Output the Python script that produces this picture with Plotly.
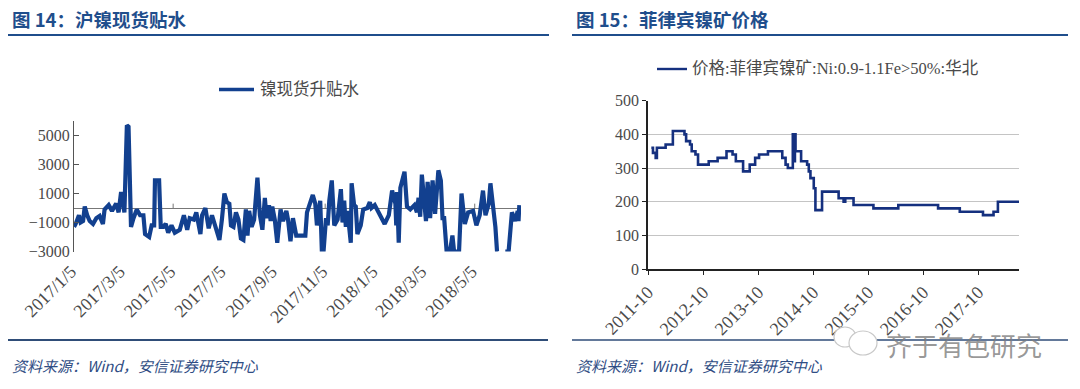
import pandas as pd
import plotly.graph_objects as go

W, H = 1080, 389

# Left chart: days since 2017/1/5 and basis values
basis_start = "2017-01-05"
basis_days = [0,2,6,8,11,13,16,19,23,27,31,35,37,42,46,51,54,57,61,64,66,69,72,76,80,84,86,91,94,97,98,103,105,108,111,114,118,122,128,133,137,140,145,148,153,155,159,163,167,171,176,179,182,185,188,190,193,196,199,202,205,208,210,212,215,218,222,225,228,231,233,236,238,240,243,246,250,253,257,259,262,265,269,274,
              280,282,286,289,292,294,298,300,302,305,307,309,312,315,319,323,325,327,329,331,335,336,339,341,343,347,350,355,358,360,364,368,372,376,381,385,389,390,391,393,395,400,403,407,412,415,417,419,421,424,426,428,431,434,437,441,444,446,448,451,455,458,460,466,469,473,477,483,487,491,495,498,502,504,508,510,512,513,514,522,526,530,534,537,538,539]
basis_values = [-1300,-1100,-500,-1000,-900,100,-500,-900,-1100,-700,-550,-1100,-100,200,-200,300,-300,1100,-300,5700,5600,-1300,-700,-100,-500,-500,-1800,-2000,-1200,-1200,1900,1900,-1300,-1300,-1100,-1700,-1200,-1700,-1500,-500,-1500,-700,-800,-300,-1800,-500,0,-1400,-500,-1200,-2200,-800,1000,400,300,-1200,-1300,-300,-800,-2100,-2200,-100,-1900,-200,-1300,-800,2100,-500,-1500,700,-700,200,-900,100,-800,-2400,-100,-900,-200,-800,-2300,-700,-1900,-1900,
                -1900,-300,300,900,300,-1200,500,-3000,-3000,-700,-1200,500,1900,-1200,-800,1300,-1000,500,-1300,-200,-2400,1700,200,100,-1800,-1200,-100,0,400,0,200,-200,-600,-1100,-500,1200,300,-1200,1100,-2400,1400,2500,100,-100,200,-300,700,-600,2300,-200,-900,1800,-700,1900,-400,2600,1900,-700,-700,-3000,-3000,-1900,-3000,-3000,1000,-1100,-300,-200,-1200,-500,1200,-500,300,1700,-300,-1300,-3000,-3000,None,-3000,-3000,-300,-900,-200,-900,200]
basis_tick_dates = ["2017-01-05","2017-03-05","2017-05-05","2017-07-05","2017-09-05","2017-11-05","2018-01-05","2018-03-05","2018-05-05"]
basis_tick_labels = ["2017/1/5","2017/3/5","2017/5/5","2017/7/5","2017/9/5","2017/11/5","2018/1/5","2018/3/5","2018/5/5"]
basis_zero_ticks = ["2017-05-05","2017-11-05","2018-05-05"]
basis_y_ticks = [5000,3000,1000,-1000,-3000]
basis_name = "镍现货升贴水"

# Right chart: Philippine nickel ore price steps
ore_dates = ["2011-10-23","2011-11-03","2011-11-21","2011-11-29","2012-01-26","2012-03-14","2012-05-30","2012-06-10","2012-07-06","2012-07-17","2012-08-11","2012-08-28","2012-11-07","2013-01-05","2013-03-05","2013-04-14","2013-05-06","2013-06-23","2013-08-06","2013-09-11","2013-10-07","2013-12-05","2014-03-10","2014-04-01","2014-04-16","2014-05-19","2014-05-26","2014-06-02","2014-06-06","2014-07-13","2014-08-22","2014-09-02","2014-09-13","2014-10-05","2014-10-16","2014-11-29","2015-03-19","2015-04-21","2015-05-02","2015-06-26","2015-11-05","2016-04-18","2017-01-07","2017-05-31","2017-11-01","2018-01-10","2018-02-08","2018-06-28"]
ore_values = [360,345,330,360,370,410,400,380,370,350,340,310,320,330,350,340,320,290,310,330,340,350,330,310,300,400,320,400,350,320,310,290,270,240,175,230,210,200,210,190,180,190,180,170,160,170,200,200]
ore_tick_dates = ["2011-10-01","2012-10-01","2013-10-01","2014-10-01","2015-10-01","2016-10-01","2017-10-01"]
ore_tick_labels = ["2011-10","2012-10","2013-10","2014-10","2015-10","2016-10","2017-10"]
ore_y_ticks = [0,100,200,300,400,500]
ore_name = "价格:菲律宾镍矿:Ni:0.9-1.1Fe>50%:华北"

title_left = "图 14：沪镍现货贴水"
title_right = "图 15：菲律宾镍矿价格"
source_text = "资料来源：Wind，安信证券研究中心"
watermark = "齐于有色研究"

BLUE = "#12408f"
ORE_BLUE = "#15307f"
HEAD = "#1f4e8c"
GREY = "#4a4a4a"
SERIF = "Liberation Serif, Noto Sans CJK SC, serif"
HEADFONT = "Noto Sans CJK SC, sans-serif"

def fx(px): return px / W
def fy(px): return 1 - px / H

basis_x = pd.Timestamp(basis_start) + pd.to_timedelta(basis_days, unit="D")

fig = go.Figure()
fig.add_trace(go.Scatter(x=basis_x, y=basis_values, mode="lines", xaxis="x", yaxis="y",
                         line=dict(color=BLUE, width=4.2), connectgaps=False, showlegend=False))
fig.add_trace(go.Scatter(x=ore_dates, y=ore_values, mode="lines", xaxis="x2", yaxis="y2",
                         line=dict(color=ORE_BLUE, width=2.6, shape="hv"), showlegend=False))

xfont = dict(family=SERIF, size=18, color=GREY)
yfont = dict(family=SERIF, size=16, color=GREY)
fig.update_layout(
    width=W, height=H, margin=dict(l=0, r=0, t=0, b=0), autosize=False,
    paper_bgcolor="white", plot_bgcolor="rgba(0,0,0,0)",
    xaxis=dict(domain=[fx(74), fx(521)], anchor="y", type="date",
               range=["2017-01-05", "2018-06-30"],
               tickvals=basis_tick_dates, ticktext=basis_tick_labels, tickangle=-45,
               showgrid=False, zeroline=False, showline=False, ticks="", tickfont=xfont,
               ticklabelstandoff=5, ticklabelshift=-3, automargin=False),
    yaxis=dict(domain=[fy(251.5), fy(121)], anchor="x", range=[-3000, 6000],
               tickvals=basis_y_ticks, showgrid=False, zeroline=True, zerolinecolor="#777777",
               zerolinewidth=1.2, showline=True, linecolor="#555555", linewidth=1,
               ticks="inside", ticklen=5, tickcolor="#555555", tickfont=yfont, automargin=False),
    xaxis2=dict(domain=[fx(648), fx(1019)], anchor="y2", type="date",
                range=["2011-10-01", "2018-06-28"],
                tickvals=ore_tick_dates, ticktext=ore_tick_labels, tickangle=-45,
                showgrid=False, zeroline=False, showline=True, linecolor="#222222", linewidth=1.5,
                ticks="outside", ticklen=4, tickcolor="#222222", tickfont=xfont, automargin=False),
    yaxis2=dict(domain=[fy(269), fy(100.7)], anchor="x2", range=[0, 500],
                tickvals=ore_y_ticks, showgrid=True, gridcolor="#c4c4c4", gridwidth=1.2,
                zeroline=False, showline=True, linecolor="#222222", linewidth=1.5,
                ticks="outside", ticklen=4, tickcolor="#222222", tickfont=yfont, automargin=False),
)

for d in basis_zero_ticks:
    fig.add_shape(type="line", xref="x", yref="y", x0=d, x1=d, y0=0, y1=300,
                  line=dict(color="#777777", width=1))

def label(text, x, y, size, color, family=SERIF):
    fig.add_annotation(text=text, xref="paper", yref="paper", x=fx(x), y=fy(y), showarrow=False,
                       xanchor="left", yanchor="middle", font=dict(size=size, color=color, family=family))

def rule(x0, x1, y, color, width):
    fig.add_shape(type="line", xref="paper", yref="paper", x0=fx(x0), x1=fx(x1), y0=fy(y), y1=fy(y),
                  line=dict(color=color, width=width))

def bubble(cx, cy, rx, ry):
    fig.add_shape(type="circle", xref="paper", yref="paper", x0=fx(cx - rx), x1=fx(cx + rx),
                  y0=fy(cy + ry), y1=fy(cy - ry), fillcolor="white",
                  line=dict(color="#c8c8c8", width=1.2))

label("<b>%s</b>" % title_left, 10, 19, 18.5, HEAD, HEADFONT)
label("<b>%s</b>" % title_right, 574, 19, 18.5, HEAD, HEADFONT)
rule(8, 549, 35, "#1f4e8c", 2)
rule(572, 1068, 35, "#1f4e8c", 2)
rule(8, 548, 340, "#2f4d78", 2)
rule(572, 1068, 340, "#2f4d78", 1.5)
label("<i>%s</i>" % source_text, 10, 365, 15, "#2f4d84", HEADFONT)
label("<i>%s</i>" % source_text, 574, 365, 15, "#2f4d84", HEADFONT)
rule(219, 254, 89.5, BLUE, 3.6)
label(basis_name, 258, 89, 16.5, GREY, SERIF)
rule(657, 687, 69, ORE_BLUE, 2.4)
label(ore_name, 690, 69, 16.5, GREY, SERIF)
bubble(845, 337, 11, 10)
bubble(863, 343, 14, 12)
label(watermark, 884, 344, 26, "rgba(125,125,125,0.8)", HEADFONT)

fig.write_html("out.html", config={"displayModeBar": False},
               post_script="document.body.style.margin='0';")
